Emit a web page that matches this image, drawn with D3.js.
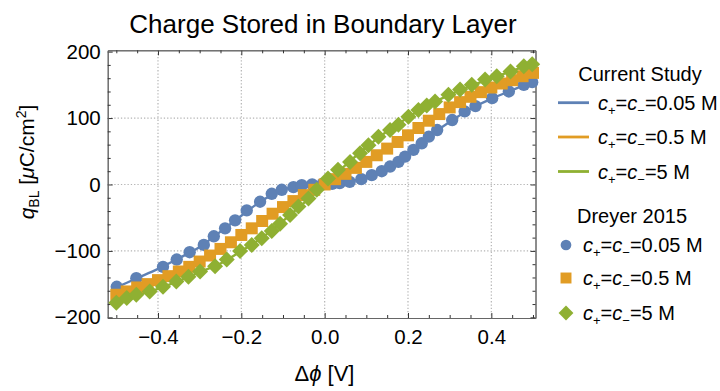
<!DOCTYPE html>
<html>
<head>
<meta charset="utf-8">
<script src="https://cdn.jsdelivr.net/npm/d3@7"></script>
<style>
  body { margin: 0; background: #fff; }
  svg text { font-family: "Liberation Sans", Arial, sans-serif; fill: #000; }
</style>
</head>
<body>
<div id="chart"></div>
<script>
// Current Study curves, sampled every 0.05 V
const lineDphi = [-0.5, -0.45, -0.4, -0.35, -0.3, -0.25, -0.2, -0.15, -0.1, -0.05, 0,
  0.05, 0.1, 0.15, 0.2, 0.25, 0.3, 0.35, 0.4, 0.45, 0.5];
const lineQ005 = [-155, -141, -127, -111, -94, -71, -47, -24, -8, -1, 0,
  3, 11, 25, 45, 72, 94, 114, 129, 142, 155];
const lineQ05 = [-166, -155, -144, -131, -116, -97, -76, -55, -34, -16, 0,
  16, 34, 54, 74, 96, 116, 132, 146, 157, 168];
const lineQ5 = [-180, -167, -157, -145, -132, -119, -100, -80, -55, -28, 0,
  29, 56, 80, 101, 120, 135, 148, 160, 171, 182];

// Dreyer 2015 points
const dreyerDphi005 = [-0.499, -0.452, -0.388, -0.355, -0.324, -0.29, -0.266, -0.239, -0.215, -0.187,
  -0.155, -0.127, -0.103, -0.075, -0.055, -0.03, -0.005, 0.018, 0.036, 0.06, 0.088, 0.113, 0.137,
  0.157, 0.177, 0.193, 0.213, 0.233, 0.25, 0.27, 0.306, 0.336, 0.362, 0.402, 0.442, 0.478, 0.498];
const dreyerQ005 = [-154, -141, -124, -113, -102, -91, -78, -66, -54, -39,
  -26, -14, -8, -4, -1, 0, 1, 1, 2, 4, 8, 14, 20,
  27, 34, 42, 52, 62, 72, 82, 97, 110, 118, 130, 140, 150, 154];

const dreyerDphi05 = [-0.5, -0.475, -0.45, -0.425, -0.4, -0.375, -0.35, -0.325, -0.3, -0.275,
  -0.25, -0.225, -0.2, -0.175, -0.15, -0.125, -0.1, -0.075, -0.05, -0.025, 0,
  0.025, 0.05, 0.075, 0.1, 0.125, 0.15, 0.175, 0.2, 0.225, 0.25,
  0.275, 0.3, 0.325, 0.35, 0.375, 0.4, 0.425, 0.45, 0.475, 0.5];
const dreyerQ05 = [-166, -161, -155, -150, -144, -138, -131, -124, -116, -107,
  -97, -87, -76, -66, -55, -44, -34, -25, -16, -8, 0,
  8, 16, 25, 34, 44, 54, 64, 74, 85, 96,
  106, 116, 124, 132, 139, 146, 152, 157, 163, 168];

const dreyerDphi5 = [-0.5, -0.475, -0.452, -0.42, -0.388, -0.356, -0.327, -0.299, -0.263, -0.235,
  -0.203, -0.175, -0.151, -0.127, -0.107, -0.083, -0.063, -0.039, -0.019, 0.008,
  0.032, 0.061, 0.085, 0.105, 0.129, 0.157, 0.177, 0.201, 0.225, 0.245,
  0.265, 0.297, 0.325, 0.353, 0.385, 0.413, 0.446, 0.478, 0.498];
const dreyerQ5 = [-178, -171, -166, -161, -154, -146, -139, -131, -123, -113,
  -100, -91, -81, -70, -59, -46, -33, -21, -8, 9,
  22, 34, 47, 59, 72, 82, 90, 102, 112, 119,
  125, 135, 143, 150, 158, 163, 170, 178, 181];

const xTicks = [-0.4, -0.2, 0, 0.2, 0.4];
const xMinor = [-0.5, -0.45, -0.35, -0.3, -0.25, -0.15, -0.1, -0.05, 0.05, 0.1, 0.15, 0.25, 0.3, 0.35, 0.45, 0.5];
const yTicks = [-200, -100, 0, 100, 200];
const yMinor = [-180, -160, -140, -120, -80, -60, -40, -20, 20, 40, 60, 80, 120, 140, 160, 180];

const concentrations = ["0.05", "0.5", "5"];
const colors = ["#5E81B5", "#E19C24", "#8FB032"];

const svg = d3.select("#chart")
  .append("svg")
  .attr("width", 720)
  .attr("height", 391);

const plotLeft = 107.7, plotRight = 535.5, plotTop = 50.3, plotBottom = 318;

const x = d3.scaleLinear().domain([-0.5207, 0.506]).range([plotLeft, plotRight]);
const y = d3.scaleLinear().domain([-201, 202]).range([plotBottom, plotTop]);

// grid
const grid = svg.append("g")
  .attr("stroke", "#b4b4b4")
  .attr("stroke-width", 1.2)
  .attr("stroke-dasharray", "1.3,2");
grid.selectAll(".gx").data(xTicks).enter().append("line")
  .attr("x1", (d) => x(d)).attr("x2", (d) => x(d))
  .attr("y1", plotTop).attr("y2", plotBottom);
grid.selectAll(".gy").data(yTicks.filter((d) => Math.abs(d) < 200)).enter().append("line")
  .attr("y1", (d) => y(d)).attr("y2", (d) => y(d))
  .attr("x1", plotLeft).attr("x2", plotRight);

// frame axes with inward ticks
function styleAxis(g) {
  g.select(".domain").attr("stroke", "#666");
  g.selectAll(".tick line").attr("stroke", "#333");
  g.selectAll("text").style("font-size", "20.5px").attr("fill", "#000");
}

svg.append("g").attr("transform", `translate(0,${plotBottom})`)
  .call(d3.axisBottom(x).tickValues(xTicks).tickFormat(d3.format(".1f"))
    .tickSize(-5).tickSizeOuter(0).tickPadding(11))
  .call(styleAxis);
svg.append("g").attr("transform", `translate(0,${plotBottom})`)
  .call(d3.axisBottom(x).tickValues(xMinor).tickFormat("").tickSize(-3).tickSizeOuter(0))
  .call(styleAxis);
svg.append("g").attr("transform", `translate(0,${plotTop})`)
  .call(d3.axisTop(x).tickValues(xTicks).tickFormat("").tickSize(-5).tickSizeOuter(0))
  .call(styleAxis);
svg.append("g").attr("transform", `translate(0,${plotTop})`)
  .call(d3.axisTop(x).tickValues(xMinor).tickFormat("").tickSize(-3).tickSizeOuter(0))
  .call(styleAxis);

svg.append("g").attr("transform", `translate(${plotLeft},0)`)
  .call(d3.axisLeft(y).tickValues(yTicks).tickFormat(d3.format("d"))
    .tickSize(-5).tickSizeOuter(0).tickPadding(7))
  .call(styleAxis);
svg.append("g").attr("transform", `translate(${plotLeft},0)`)
  .call(d3.axisLeft(y).tickValues(yMinor).tickFormat("").tickSize(-3).tickSizeOuter(0))
  .call(styleAxis);
svg.append("g").attr("transform", `translate(${plotRight},0)`)
  .call(d3.axisRight(y).tickValues(yTicks).tickFormat("").tickSize(-5).tickSizeOuter(0))
  .call(styleAxis);
svg.append("g").attr("transform", `translate(${plotRight},0)`)
  .call(d3.axisRight(y).tickValues(yMinor).tickFormat("").tickSize(-3).tickSizeOuter(0))
  .call(styleAxis);

// Current Study lines
const line = d3.line()
  .x((d) => x(d[0]))
  .y((d) => y(d[1]))
  .curve(d3.curveMonotoneX);

[lineQ005, lineQ05, lineQ5].forEach((qs, i) => {
  svg.append("path")
    .datum(lineDphi.map((d, j) => [d, qs[j]]))
    .attr("d", line)
    .attr("fill", "none")
    .attr("stroke", colors[i])
    .attr("stroke-width", 2.4);
});

// Dreyer 2015 markers
const circleSym = d3.symbol(d3.symbolCircle, 120);
const squareSym = d3.symbol(d3.symbolSquare, 144);
const diamondSym = d3.symbol(d3.symbolSquare, 128);

const markerSets = [
  { dphi: dreyerDphi005, q: dreyerQ005, sym: circleSym, rot: 0 },
  { dphi: dreyerDphi05, q: dreyerQ05, sym: squareSym, rot: 0 },
  { dphi: dreyerDphi5, q: dreyerQ5, sym: diamondSym, rot: 45 }
];

markerSets.forEach((m, i) => {
  svg.append("g")
    .selectAll("path")
    .data(m.dphi.map((d, j) => [d, m.q[j]]))
    .enter()
    .append("path")
    .attr("d", m.sym)
    .attr("transform", (d) => `translate(${x(d[0])},${y(d[1])}) rotate(${m.rot})`)
    .attr("fill", colors[i]);
});

// title and axis labels
svg.append("text")
  .attr("x", 323).attr("y", 33)
  .attr("text-anchor", "middle")
  .style("font-size", "26px")
  .text("Charge Stored in Boundary Layer");

const xl = svg.append("text")
  .attr("x", 324.5).attr("y", 381)
  .attr("text-anchor", "middle")
  .style("font-size", "22px");
xl.append("tspan").text("Δ");
xl.append("tspan").style("font-style", "italic").text("ϕ");
xl.append("tspan").text(" [V]");

const yl = svg.append("text")
  .attr("transform", "translate(34,162) rotate(-90)")
  .attr("text-anchor", "middle")
  .style("font-size", "21px");
yl.append("tspan").style("font-style", "italic").text("q");
yl.append("tspan").attr("dy", 5).style("font-size", "14px").text("BL");
yl.append("tspan").attr("dy", -5).text(" [");
yl.append("tspan").style("font-style", "italic").text("μ");
yl.append("tspan").text("C/cm");
yl.append("tspan").attr("dy", -8).style("font-size", "14px").text("2");
yl.append("tspan").attr("dy", 8).text("]");

// legend
function concLabel(g, lx, ly, conc) {
  const t = g.append("text")
    .attr("x", lx).attr("y", ly)
    .attr("dy", "0.35em")
    .style("font-size", "20px");
  t.append("tspan").style("font-style", "italic").text("c");
  t.append("tspan").attr("dy", 5).style("font-size", "13px").text("+");
  t.append("tspan").attr("dy", -5).text("=");
  t.append("tspan").style("font-style", "italic").text("c");
  t.append("tspan").attr("dy", 5).style("font-size", "13px").text("−");
  t.append("tspan").attr("dy", -5).text(`=${conc} M`);
}

const legend = svg.append("g");
legend.append("text")
  .attr("x", 640).attr("y", 81)
  .attr("text-anchor", "middle")
  .style("font-size", "20px")
  .text("Current Study");

const lineRows = [102.7, 137, 171.5];
concentrations.forEach((c, i) => {
  legend.append("line")
    .attr("x1", 558).attr("x2", 589)
    .attr("y1", lineRows[i]).attr("y2", lineRows[i])
    .attr("stroke", colors[i])
    .attr("stroke-width", 2.8);
  concLabel(legend, 598, lineRows[i], c);
});

legend.append("text")
  .attr("x", 632).attr("y", 223)
  .attr("text-anchor", "middle")
  .style("font-size", "20px")
  .text("Dreyer 2015");

const markerRows = [245, 278, 313];
const legendSyms = [d3.symbol(d3.symbolCircle, 90), d3.symbol(d3.symbolSquare, 120), d3.symbol(d3.symbolSquare, 110)];
concentrations.forEach((c, i) => {
  legend.append("path")
    .attr("d", legendSyms[i])
    .attr("transform", `translate(566,${markerRows[i]}) rotate(${markerSets[i].rot})`)
    .attr("fill", colors[i]);
  concLabel(legend, 583, markerRows[i], c);
});
</script>
</body>
</html>
